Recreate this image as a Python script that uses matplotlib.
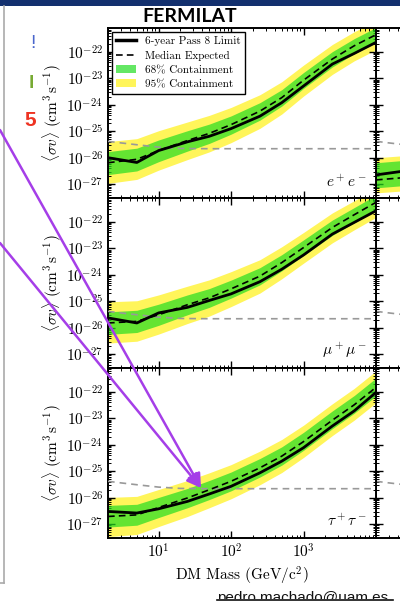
import numpy as np
import matplotlib.pyplot as plt
from matplotlib.patches import Rectangle, Patch
from matplotlib.lines import Line2D
from matplotlib.ticker import FuncFormatter, NullFormatter, LogLocator

plt.rcParams['mathtext.fontset'] = 'cm'

# ---- data: log10 <sigma v> (cm^3/s) ----
mass = [2, 5, 10, 25, 50, 100, 250, 500, 1000, 2500, 5000, 10000]

# e+ e-
limit_ee  = [-26.00, -26.18, -25.73, -25.40, -25.19, -24.90, -24.43, -23.92, -23.29, -22.46, -22.06, -21.64]
median_ee = [-26.19, -26.06, -25.73, -25.35, -25.08, -24.75, -24.24, -23.73, -23.07, -22.27, -21.77, -21.35]
hi95_ee   = [-25.39, -25.28, -24.98, -24.65, -24.40, -24.10, -23.62, -23.13, -22.50, -21.72, -21.24, -20.83]
hi68_ee   = [-25.77, -25.64, -25.33, -24.98, -24.73, -24.42, -23.92, -23.43, -22.78, -21.99, -21.50, -21.08]
lo68_ee   = [-26.64, -26.50, -26.15, -25.75, -25.46, -25.11, -24.58, -24.05, -23.38, -22.57, -22.07, -21.65]
lo95_ee   = [-26.97, -26.82, -26.47, -26.07, -25.78, -25.43, -24.89, -24.35, -23.67, -22.85, -22.34, -21.92]

# mu+ mu-
limit_mm  = [-25.63, -25.82, -25.44, -25.23, -24.97, -24.72, -24.26, -23.79, -23.25, -22.46, -22.02, -21.58]
median_mm = [-25.82, -25.76, -25.51, -25.13, -24.87, -24.53, -24.05, -23.54, -22.97, -22.21, -21.73, -21.26]
hi95_mm   = [-25.02, -24.98, -24.76, -24.43, -24.19, -23.88, -23.43, -22.94, -22.40, -21.66, -21.20, -20.74]
hi68_mm   = [-25.40, -25.34, -25.11, -24.76, -24.52, -24.20, -23.73, -23.24, -22.68, -21.93, -21.46, -20.99]
lo68_mm   = [-26.25, -26.18, -25.91, -25.51, -25.23, -24.88, -24.38, -23.85, -23.27, -22.51, -22.03, -21.56]
lo95_mm   = [-26.58, -26.51, -26.24, -25.84, -25.56, -25.20, -24.69, -24.15, -23.56, -22.79, -22.30, -21.83]

# tau+ tau-
limit_tt  = [-26.52, -26.58, -26.42, -26.14, -25.86, -25.57, -25.06, -24.62, -24.11, -23.29, -22.72, -22.02]
median_tt = [-26.71, -26.65, -26.37, -26.01, -25.70, -25.38, -24.87, -24.43, -23.88, -23.07, -22.49, -21.83]
hi95_tt   = [-25.99, -25.95, -25.69, -25.35, -25.06, -24.75, -24.24, -23.80, -23.26, -22.45, -21.87, -21.21]
hi68_tt   = [-26.29, -26.25, -25.99, -25.65, -25.35, -25.03, -24.52, -24.08, -23.53, -22.72, -22.14, -21.48]
lo68_tt   = [-27.11, -27.04, -26.75, -26.38, -26.07, -25.74, -25.22, -24.77, -24.21, -23.39, -22.81, -22.15]
lo95_tt   = [-27.47, -27.39, -27.09, -26.71, -26.38, -26.04, -25.51, -25.05, -24.48, -23.65, -23.07, -22.41]

# right column (only its low-mass edge is visible)
mass_r    = [2, 5]
limit_r   = [-26.65, -26.50]
median_r  = [-26.84, -26.75]
hi95_r    = [-26.00, -25.92]
hi68_r    = [-26.19, -26.10]
lo68_r    = [-27.14, -27.05]
lo95_r    = [-27.33, -27.25]

# thermal relic cross section (grey dashed)
relic_mass = [2, 3, 5, 10, 20, 50, 10000]
relic      = [-25.38, -25.44, -25.51, -25.60, -25.65, -25.66, -25.66]

channels = [r'$e^+e^-$', r'$\mu^+\mu^-$', r'$\tau^+\tau^-$']
ytick_vals = [1e-27, 1e-26, 1e-25, 1e-24, 1e-23, 1e-22]
xtick_vals = [1e1, 1e2, 1e3]

yellow = '#fff55a'
green = '#22dd22'

def p(v):
    return np.power(10.0, np.array(v))

def draw(ax, m, lim, med, lo95, hi95, lo68, hi68):
    ax.fill_between(m, p(lo95), p(hi95), color=yellow, lw=0, zorder=1)
    ax.fill_between(m, p(lo68), p(hi68), color=green, alpha=0.7, lw=0, zorder=2)
    ax.plot(relic_mass, p(relic), color='#999999', ls=(0, (4, 3)), lw=1.2, zorder=3)
    ax.plot(m, p(med), color='k', ls=(0, (4, 2.5)), lw=1.2, zorder=4)
    ax.plot(m, p(lim), color='k', lw=2.0, zorder=5)

def logfmt(v, q):
    return r'$10^{%d}$' % round(np.log10(v))

def style(ax):
    ax.set_xscale('log')
    ax.set_yscale('log')
    ax.set_xlim(2, 1e4)
    ax.set_ylim(3e-28, 8e-22)
    ax.set_xticks(xtick_vals)
    ax.set_yticks(ytick_vals)
    ax.xaxis.set_minor_locator(LogLocator(base=10, subs=np.arange(2, 10), numticks=20))
    ax.yaxis.set_minor_locator(LogLocator(base=10, subs=np.arange(2, 10), numticks=20))
    ax.xaxis.set_major_formatter(FuncFormatter(logfmt))
    ax.yaxis.set_major_formatter(FuncFormatter(logfmt))
    ax.xaxis.set_minor_formatter(NullFormatter())
    ax.yaxis.set_minor_formatter(NullFormatter())
    ax.tick_params(which='both', direction='in', top=True, right=True, labelsize=11)
    ax.tick_params(which='major', length=5, width=1)
    ax.tick_params(which='minor', length=2.5, width=0.7)
    for s in ax.spines.values():
        s.set_linewidth(1.4)

fig = plt.figure(figsize=(4.0, 6.07), dpi=100)

bottoms = [0.6738, 0.3937, 0.1137]
left_data = [
    (limit_ee, median_ee, lo95_ee, hi95_ee, lo68_ee, hi68_ee),
    (limit_mm, median_mm, lo95_mm, hi95_mm, lo68_mm, hi68_mm),
    (limit_tt, median_tt, lo95_tt, hi95_tt, lo68_tt, hi68_tt),
]

# right column first so the left column's shared spine sits on top
for i, b in enumerate(bottoms):
    axr = fig.add_axes([0.94, b, 0.67, 0.2801])
    style(axr)
    axr.tick_params(labelleft=False, labelbottom=False)
    if i == 0:
        draw(axr, mass_r, limit_r, median_r, lo95_r, hi95_r, lo68_r, hi68_r)
    else:
        axr.plot(relic_mass, p(relic), color='#999999', ls=(0, (4, 3)), lw=1.2)

axes = []
for i, b in enumerate(bottoms):
    ax = fig.add_axes([0.27, b, 0.67, 0.2801])
    style(ax)
    draw(ax, mass, *left_data[i])
    ax.set_ylabel(r'$\langle\sigma v\rangle\ (\mathrm{cm^3\,s^{-1}})$', fontsize=11, labelpad=2)
    ax.text(0.965, 0.05, channels[i], transform=ax.transAxes, ha='right', va='bottom', fontsize=11)
    if i < 2:
        ax.tick_params(labelbottom=False)
    axes.append(ax)

axes[2].set_xlabel(r'DM Mass (GeV/c$^2$)', family='cmr10', fontsize=11, labelpad=3)

handles = [
    Line2D([], [], color='k', lw=2.5, label='6-year Pass 8 Limit'),
    Line2D([], [], color='k', ls=(0, (4, 2.5)), lw=1.2, label='Median Expected'),
    Patch(facecolor=green, alpha=0.7, label='68% Containment'),
    Patch(facecolor=yellow, label='95% Containment'),
]
leg = axes[0].legend(handles=handles, loc='upper left', prop={'family': 'cmr10', 'size': 8},
                     frameon=True, fancybox=False, framealpha=1, edgecolor='k',
                     borderaxespad=0.35, labelspacing=0.4, handlelength=1.8, handletextpad=0.8,
                     borderpad=0.4)
leg.get_frame().set_linewidth(1.0)
leg.set_zorder(10)

# ---- slide decorations (overlay in pixel coordinates) ----
ov = fig.add_axes([0, 0, 1, 1], zorder=20)
ov.set_xlim(0, 400)
ov.set_ylim(607, 0)
ov.axis('off')
ov.patch.set_alpha(0)

ov.add_patch(Rectangle((0, 0), 400, 6, color='#13306e', lw=0))
ov.plot([4, 4], [6, 583], color='#aaaaaa', lw=1.2)
ov.plot([0, 4], [583, 583], color='#aaaaaa', lw=1.2)

ov.text(190, 16, 'FERMILAT', family='Lato', fontweight='bold', fontsize=14,
        ha='center', va='center', color='k')

ov.text(33, 44, '!', family='Liberation Sans', fontsize=14, color='#4a66cc', ha='center', va='center')
ov.text(31, 83, 'l', family='Liberation Sans', fontweight='bold', fontsize=14, color='#77aa33',
        ha='center', va='center')
ov.text(30, 121, '5', family='Liberation Sans', fontweight='bold', fontsize=15, color='#ee3322',
        ha='center', va='center')

ov.text(217, 602, 'pedro.machado@uam.es', family='Liberation Sans', fontsize=11,
        ha='left', va='baseline', color='#111111')
ov.add_patch(Rectangle((200, 599), 200, 8, color='white', lw=0, zorder=5))
ov.plot([217, 393], [599.5, 599.5], color='#111111', lw=1.2, zorder=6)

# purple arrows
purple = '#a53ee8'
for start in [(0, 130), (0, 243)]:
    ov.annotate('', xy=(201, 488), xytext=start,
                arrowprops=dict(arrowstyle='-|>,head_length=0.6,head_width=0.3',
                                color=purple, lw=1.8, shrinkA=0, shrinkB=0,
                                mutation_scale=14))

fig.savefig('out.png', dpi=100)
